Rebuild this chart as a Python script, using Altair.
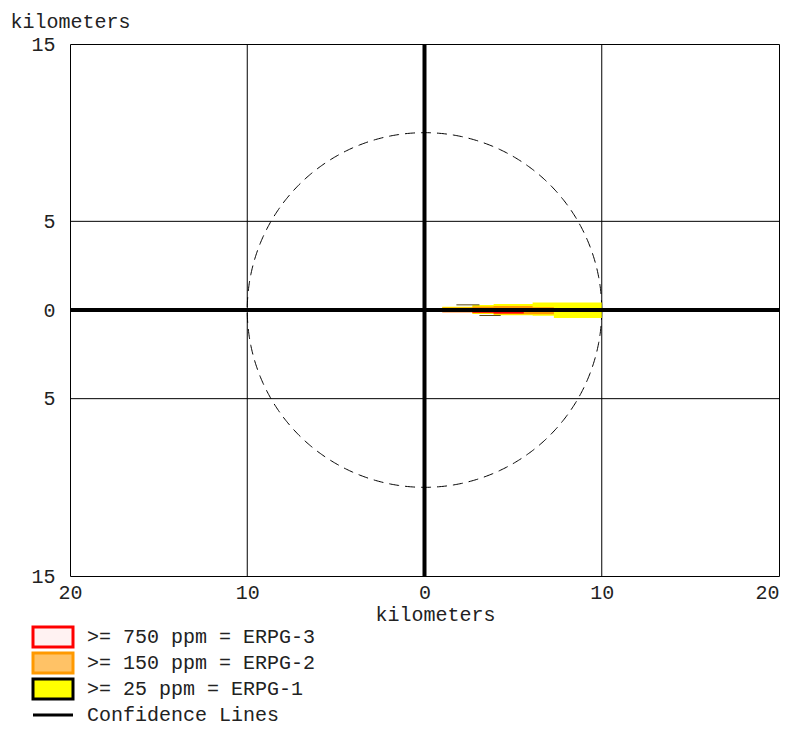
import altair as alt
import pandas as pd
import numpy as np

# ---------------- data ----------------
x_ticks = [-20, -10, 0, 10, 20]
y_ticks = [-15, -5, 0, 5, 15]
x_grid = [-10, 10]
y_grid = [-5, 5]
axis_zero = [0]
circle_radius_km = 10

# plume footprints (km downwind, km crosswind), stepped outlines
yellow_x = [0.3, 1.0, 2.7, 3.9, 6.1, 7.3, 10.0]
yellow_top = [0.05, 0.19, 0.28, 0.34, 0.43, 0.43, 0.45]
yellow_bottom = [-0.05, -0.12, -0.23, -0.30, -0.33, -0.45, -0.45]

orange_x = [0.3, 1.0, 2.7, 3.9, 6.1, 7.3]
orange_top = [0.03, 0.14, 0.2, 0.22, 0.16, 0.16]
orange_bottom = [-0.04, -0.1, -0.18, -0.24, -0.24, -0.24]

red_x = [0.2, 1.0, 2.7, 3.9, 5.6]
red_top = [0.02, 0.05, 0.08, 0.08, 0.08]
red_bottom = [-0.05, -0.12, -0.16, -0.2, -0.2]

conf_x = [1.8, 3.1, 3.1, 4.3]
conf_y = [0.29, 0.29, -0.31, -0.31]
conf_id = ["a", "a", "b", "b"]

legend_labels = [">= 750 ppm = ERPG-3", ">= 150 ppm = ERPG-2",
                 ">= 25 ppm = ERPG-1", "Confidence Lines"]
legend_fill = ["#fff2f2", "#ffc266", "#ffff00", "transparent"]
legend_stroke = ["#ff0000", "#ff9900", "#000000", "#000000"]
rect_path = "M-4,-2H4V2H-4Z"
line_path = "M-4,0H4"
legend_shapes = [rect_path, rect_path, rect_path, line_path]

FONT = "Liberation Mono"

# ---------------- scales ----------------
xs = alt.Scale(domain=[-20, 20], nice=False, zero=False)
ys = alt.Scale(domain=[-15, 15], nice=False, zero=False)

x_axis = alt.Axis(values=x_ticks, labelExpr="abs(datum.value)", grid=False,
                  ticks=False, domain=False, labelFlush=False, labelPadding=6,
                  labelAlign=alt.ExprRef(expr="datum.value >= 20 ? 'right' : 'center'"),
                  title="kilometers", titleX=365, titleY=38, titleAlign="center",
                  titleBaseline="middle", titleFontWeight="normal")
y_axis = alt.Axis(values=y_ticks, labelExpr="abs(datum.value)", grid=False,
                  ticks=False, domain=False, labelFlush=False, labelPadding=15,
                  title="kilometers", titleAngle=0, titleX=-60, titleY=-23,
                  titleAlign="left", titleBaseline="middle", titleFontWeight="normal")

xgrid_df = pd.DataFrame({"x": x_grid})
ygrid_df = pd.DataFrame({"y": y_grid})

xgrid = alt.Chart(xgrid_df).mark_rule(color="black", strokeWidth=1).encode(
    x=alt.X("x:Q", scale=xs, axis=x_axis))
ygrid = alt.Chart(ygrid_df).mark_rule(color="black", strokeWidth=1).encode(
    y=alt.Y("y:Q", scale=ys, axis=y_axis))

theta = np.linspace(0, 2 * np.pi, 721)
circle_df = pd.DataFrame({
    "x": circle_radius_km * np.cos(theta),
    "y": circle_radius_km * np.sin(theta),
    "i": np.arange(len(theta)),
})
circle = alt.Chart(circle_df).mark_line(color="black", strokeWidth=1,
                                        strokeDash=[10, 6]).encode(
    x=alt.X("x:Q", scale=xs), y=alt.Y("y:Q", scale=ys), order="i:Q")


def plume(xv, top, bot, color):
    df = pd.DataFrame({"x": xv, "top": top, "bot": bot})
    return alt.Chart(df).mark_area(color=color, interpolate="step-after",
                                   opacity=1).encode(
        x=alt.X("x:Q", scale=xs), y=alt.Y("top:Q", scale=ys), y2="bot:Q")


yellow = plume(yellow_x, yellow_top, yellow_bottom, "#ffff00")
orange = plume(orange_x, orange_top, orange_bottom, "#ff9900")
red = plume(red_x, red_top, red_bottom, "#ff0000")

conf_df = pd.DataFrame({"x": conf_x, "y": conf_y, "id": conf_id})
conf = alt.Chart(conf_df).mark_line(color="#5a4a10", strokeWidth=1).encode(
    x=alt.X("x:Q", scale=xs), y=alt.Y("y:Q", scale=ys), detail="id:N")

zero_df = pd.DataFrame({"v": axis_zero})
zero_v = alt.Chart(zero_df).mark_rule(color="black", strokeWidth=4).encode(
    x=alt.X("v:Q", scale=xs))
zero_h = alt.Chart(zero_df).mark_rule(color="black", strokeWidth=4).encode(
    y=alt.Y("v:Q", scale=ys))

leg = alt.Legend(title=None, orient="none", legendX=-27, legendY=583,
                 symbolSize=100, symbolStrokeWidth=3, labelOffset=24,
                 labelFont=FONT, labelFontSize=20, labelColor="#222",
                 rowPadding=-6, labelLimit=400)
legend_layer = alt.Chart(alt.Data(values=[])).mark_point(
    filled=True, strokeWidth=3, opacity=1).encode(
    fill=alt.Fill("level:N", scale=alt.Scale(domain=legend_labels, range=legend_fill), legend=leg),
    stroke=alt.Stroke("level:N", scale=alt.Scale(domain=legend_labels, range=legend_stroke), legend=leg),
    shape=alt.Shape("level:N", scale=alt.Scale(domain=legend_labels, range=legend_shapes), legend=leg),
)

chart = alt.layer(
    xgrid, ygrid, circle, yellow, orange, red, conf, zero_v, zero_h, legend_layer
).properties(
    width=709, height=532,
    background="white",
    autosize=alt.AutoSizeParams(type="none"),
    padding={"left": 62, "top": 36, "right": 5, "bottom": 149},
).configure_view(
    stroke="black", strokeWidth=1
).configure_axis(
    labelFont=FONT, labelFontSize=20, labelColor="#222",
    titleFont=FONT, titleFontSize=20, titleColor="#222",
)

chart.save("out.html", embed_options={"renderer": "svg", "actions": False})
